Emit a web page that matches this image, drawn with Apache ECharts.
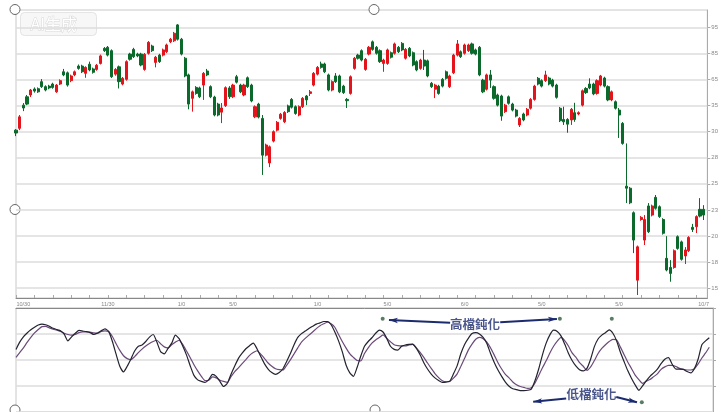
<!DOCTYPE html>
<html><head><meta charset="utf-8">
<script src="https://cdn.jsdelivr.net/npm/echarts@6/dist/echarts.min.js"></script>
<style>html,body{margin:0;padding:0;background:#fff;}#c{width:721px;height:412px;}</style>
</head><body><div id="c"></div>
<script>
const open = [160.6,161.3,170.2,173.4,174.1,176.4,176.5,179.2,177.3,177.5,
178.3,175.3,178.3,183.0,182.6,179.6,181.8,185.2,185.2,182.4,
185.9,184.1,183.9,186.2,192.0,192.4,191.1,182.1,184.9,178.3,
180.1,189.8,191.6,189.8,189.8,183.9,190.1,192.9,186.6,189.4,
189.4,190.7,194.5,194.9,201.0,195.5,188.2,181.8,172.8,177.0,
176.8,177.9,183.3,177.3,173.3,170.6,167.5,170.0,176.8,173.4,
181.1,177.9,174.1,180.7,177.9,165.7,170.6,165.1,151.0,148.0,
156.4,160.6,165.1,163.8,169.9,172.4,169.6,166.4,169.6,173.7,
174.7,177.9,182.1,186.0,186.0,181.8,176.0,181.4,181.4,177.5,
172.4,174.7,184.3,189.4,191.1,183.9,189.8,194.5,192.4,191.1,
186.2,186.2,190.3,190.1,192.4,193.9,188.2,192.0,190.3,186.9,
184.3,187.5,187.2,178.6,176.3,177.5,180.1,183.0,177.3,182.6,
189.4,190.7,190.1,191.1,193.7,191.4,192.4,179.8,176.3,181.8,
177.3,174.1,173.7,167.7,173.4,170.6,168.3,162.6,166.8,166.4,
169.0,172.4,180.5,179.6,179.6,180.6,179.8,177.9,169.0,164.7,
164.7,164.5,167.3,166.8,170.2,176.6,178.3,178.3,174.7,177.9,
180.6,177.3,172.2,171.5,168.3,163.2,139.1,138.3,128.9,103.0,
126.3,118.4,131.5,128.0,134.8,131.2,126.3,111.4,107.9,107.9,
119.7,117.7,112.3,114.3,123.3,123.5,130.2,130.2];
const close = [159.5,165.7,169.1,170.6,176.0,175.6,175.3,177.3,176.0,176.8,
177.0,177.9,179.6,181.8,177.9,181.4,183.0,184.3,183.0,184.7,
183.7,182.8,185.5,189.1,191.1,189.4,181.1,183.9,179.2,180.5,
186.9,187.8,188.8,189.1,185.6,189.7,194.3,191.1,188.6,186.9,
191.4,193.3,195.5,197.8,195.5,189.8,181.4,170.6,175.3,174.7,
173.4,182.4,181.8,173.4,166.4,166.4,169.1,176.9,173.4,177.9,
179.0,175.3,177.9,177.3,171.8,169.6,165.6,151.0,154.9,154.2,
160.0,163.6,166.7,167.4,167.7,169.4,167.0,169.6,172.8,172.2,
175.3,182.4,184.7,184.7,183.0,176.0,179.2,179.2,175.3,175.0,
171.9,181.1,188.2,188.2,187.5,187.8,192.4,191.6,190.1,186.9,
187.5,191.4,188.6,193.7,190.7,191.4,191.6,189.1,185.6,183.7,
187.5,185.2,181.4,177.3,177.9,174.7,177.5,180.5,181.4,189.4,
193.7,188.8,193.3,193.3,190.1,189.8,181.8,175.3,181.8,179.8,
172.8,170.2,166.0,170.2,170.9,168.3,166.0,165.1,164.5,168.6,
172.4,177.5,178.3,177.5,181.8,178.3,177.5,173.2,164.2,163.8,
162.9,168.6,164.7,167.3,175.7,175.0,176.8,174.5,179.6,181.4,
177.5,172.2,175.3,169.0,166.4,155.5,138.3,132.7,118.4,115.8,
127.1,126.3,121.6,131.5,130.6,127.4,121.0,106.9,105.6,114.3,
115.2,111.0,114.6,119.4,122.5,127.4,127.6,128.0];
const low = [158.3,160.6,167.9,170.2,173.3,175.0,174.9,176.8,175.5,176.3,
176.5,174.9,177.9,181.3,177.3,179.0,181.3,183.8,182.5,180.7,
183.2,182.3,183.4,185.8,190.6,188.9,180.6,181.5,176.6,177.8,
179.6,187.3,188.3,188.6,185.1,183.4,189.6,190.6,184.7,186.4,
188.9,190.2,194.0,194.4,195.0,189.3,180.9,168.6,167.7,174.2,
172.9,172.2,181.3,172.9,165.9,165.9,163.3,169.5,172.6,172.9,
178.5,174.8,173.6,176.8,171.3,165.2,165.1,143.4,150.5,146.4,
155.9,160.1,164.6,163.3,167.2,168.9,166.5,165.9,169.1,170.2,
173.7,177.4,181.6,184.2,182.5,175.5,175.5,178.7,174.8,174.5,
169.1,174.2,183.8,187.7,187.0,183.4,189.3,191.1,189.6,186.4,
183.0,185.7,188.1,189.6,190.2,190.9,187.7,188.6,185.1,183.2,
183.8,183.7,180.9,176.8,172.9,174.2,177.0,180.0,176.8,182.1,
188.9,188.3,189.6,190.6,189.6,189.3,181.3,174.8,175.8,176.8,
172.3,169.7,164.2,167.2,170.4,167.8,165.5,161.8,164.0,165.9,
168.5,171.9,177.8,177.0,179.1,177.8,177.0,172.7,163.7,162.6,
159.6,162.6,163.8,166.3,169.7,174.5,176.3,174.0,174.2,177.4,
177.0,171.7,171.7,168.5,157.6,155.0,132.6,132.2,113.4,97.3,
125.8,116.5,121.1,127.5,130.1,126.9,120.5,106.4,102.4,107.4,
114.7,110.5,109.2,113.8,121.5,121.1,127.1,126.1];
const high = [161.0,166.4,171.0,174.1,176.4,177.0,177.0,180.2,177.8,178.0,
178.8,178.3,180.1,184.1,183.1,181.9,183.5,185.8,185.7,185.1,
186.9,184.6,186.0,189.6,192.5,192.9,191.6,184.4,185.4,181.0,
187.4,190.3,192.2,190.3,190.3,190.2,194.8,193.4,189.1,189.9,
191.9,193.8,196.0,198.3,201.3,196.0,188.7,182.3,175.8,177.5,
177.3,182.9,184.1,177.8,173.8,171.1,171.0,177.4,177.5,178.4,
181.8,178.4,178.4,181.2,178.4,170.1,171.1,166.4,155.4,154.7,
160.5,164.1,167.2,167.9,170.4,172.9,170.1,170.1,173.3,174.1,
176.0,182.9,185.2,186.9,186.5,182.3,179.7,182.5,181.9,178.0,
172.9,181.6,188.7,189.9,191.6,188.3,192.9,195.0,192.9,191.6,
188.0,191.9,190.8,194.2,192.9,194.4,192.1,192.5,190.8,187.4,
188.0,191.4,187.7,179.1,178.4,178.0,180.6,183.5,181.9,189.9,
195.2,191.2,193.8,193.8,194.2,191.9,192.9,180.3,182.3,183.7,
177.8,174.6,174.2,170.7,173.9,171.1,168.8,165.6,167.3,169.1,
172.9,178.0,181.0,180.1,183.4,181.1,180.3,178.4,169.5,169.6,
165.2,169.1,171.1,167.8,176.2,177.1,180.5,178.8,180.1,181.8,
181.1,177.8,175.8,172.0,169.1,163.7,155.5,138.8,129.4,116.3,
127.6,128.0,132.6,132.0,135.7,131.7,126.8,119.9,110.7,114.8,
120.2,118.2,115.7,119.9,124.6,127.9,134.5,131.8];

const kLine = [60.2,67.2,72.3,76.0,79.0,81.5,83.6,84.5,83.9,82.4,
80.5,79.3,78.1,74.8,68.4,72.3,75.7,78.4,77.8,77.2,
76.3,74.5,76.0,78.1,79.9,77.5,67.8,55.6,44.0,38.5,
44.0,51.0,58.6,63.2,64.4,67.8,72.0,74.5,67.2,58.0,
55.9,61.1,66.2,73.9,70.5,63.2,54.7,44.3,35.2,30.9,
29.4,28.5,31.2,36.1,34.3,29.4,24.5,27.6,36.4,44.3,
51.6,56.5,60.8,63.8,66.2,60.8,53.5,46.5,41.3,37.9,
36.1,37.9,41.6,48.6,56.2,64.7,71.7,75.4,77.8,80.2,
82.4,84.5,85.7,87.0,87.0,83.9,76.9,68.4,58.0,45.5,
37.9,34.3,42.8,53.8,63.2,67.8,71.4,75.7,78.7,76.9,
70.8,63.2,60.2,59.5,63.2,64.4,65.0,65.3,61.1,55.0,
47.4,41.3,36.4,32.8,30.3,28.5,28.8,29.7,36.7,44.6,
56.2,65.0,70.8,75.4,76.3,75.1,71.7,65.9,56.2,47.7,
40.4,34.3,28.8,24.8,22.4,21.5,20.6,20.6,20.9,22.1,
30.3,41.6,55.0,66.2,74.2,78.7,77.5,73.2,65.3,56.5,
49.5,44.3,40.7,39.5,41.9,51.0,62.9,70.2,73.9,76.3,
79.0,75.7,68.4,57.7,48.6,39.8,32.5,26.1,20.9,25.2,
30.0,34.3,37.6,41.3,46.5,50.7,52.2,45.9,41.3,41.3,
41.0,38.9,37.6,41.9,51.0,64.7,68.4,71.4];
const dLine = [52.5,57.1,61.7,66.9,71.7,76.0,79.3,82.1,82.4,80.9,
79.6,78.7,77.5,75.7,74.5,73.9,74.5,76.3,76.9,76.9,
76.9,76.0,75.7,77.5,78.1,77.2,72.6,65.6,59.2,54.1,
51.3,50.4,53.2,57.1,60.5,63.5,65.9,67.8,69.0,65.6,
62.6,61.7,64.7,67.2,69.0,64.7,58.6,52.2,45.5,39.5,
34.3,30.3,30.6,33.7,32.8,30.6,29.4,28.5,34.0,38.9,
42.5,46.5,50.4,54.4,57.1,58.9,55.6,51.6,47.1,44.0,
41.6,40.7,40.4,44.9,50.1,55.9,61.7,67.2,70.8,73.9,
76.9,80.2,83.0,84.8,86.3,84.8,81.5,74.5,67.8,61.7,
56.2,52.5,49.5,49.2,56.2,61.7,66.2,69.3,71.7,74.2,
70.8,67.5,64.7,63.8,63.5,63.5,64.4,65.0,61.7,57.4,
52.5,47.1,41.9,37.0,33.1,30.0,29.1,29.4,32.5,36.7,
44.0,51.6,59.5,65.3,69.9,71.7,70.5,67.2,61.7,54.7,
47.4,41.3,36.1,32.8,28.8,26.1,24.5,23.6,22.7,23.3,
27.9,35.2,42.5,49.2,56.8,63.2,68.1,71.7,68.7,63.5,
56.8,52.8,47.4,44.0,40.1,43.4,49.5,56.2,61.1,64.7,
67.8,69.9,69.3,62.6,55.3,48.0,41.9,35.5,31.2,27.6,
29.7,31.2,34.0,36.7,41.0,43.4,44.9,44.9,43.7,41.9,
41.0,40.4,40.4,41.6,46.2,51.9,56.8,62.3];

const xTickIdx = [2,25,45,59,82,101,122,143,164,187];
const xTickText = ['10/30','11/30','1/0','5/0','1/0','5/0','6/0','5/0','5/0','10/7'];
const yTickVals = [200,190,180,170,160,150,140,130,120,110,100];
const yTickText = ['95','85','65','35','30','28','25','23','20','18','15'];
const dotPoints = [[98.9,89.7],[146.7,89.7],[160.7,89.7],[168.8,9.3]];
const annoNames = ['高檔鈍化','低檔鈍化'];
const annoPos = [[123.8,84.5],[155.2,16.6]];
const arrowFrom = [[117.1,85.8],[130.6,86.3],[148.4,13.0],[161.9,14.4]];
const arrowTo = [[100.6,88.4],[145.9,89.5],[139.5,9.9],[167.5,9.3]];

const n = open.length;
const cats = [];
for (let i = 0; i <= n; i++) cats.push(String(i));
const labelMap = {};
xTickIdx.forEach((ix, j) => { labelMap[ix] = xTickText[j]; });

const RED = '#e3141c', GREEN = '#0b6a2b', NAVY = '#1c2b6e';
const chart = echarts.init(document.getElementById('c'));
chart.setOption({
  animation: false,
  backgroundColor: '#fff',
  grid: [
    {left: 16, right: 8, top: 10, height: 288, show: true, borderColor: '#c8c8c8', borderWidth: 1},
    {left: 16, right: 8, top: 308, height: 109.5, show: true, borderColor: '#c8c8c8', borderWidth: 1}
  ],
  xAxis: [
    {type: 'category', gridIndex: 0, data: cats, boundaryGap: false,
     axisLine: {lineStyle: {color: '#888', width: 1}},
     axisTick: {show: true, inside: true, interval: 4, length: 3, lineStyle: {color: '#aaa'}},
     axisLabel: {interval: 0, formatter: (v, i) => labelMap[i] || '', fontSize: 5.5, color: '#888', margin: 3, fontFamily: 'Liberation Sans'},
     splitLine: {show: false}},
    {type: 'value', gridIndex: 1, min: 0, max: n, position: 'top',
     axisLine: {show: true, onZero: false, lineStyle: {color: '#888'}},
     axisTick: {show: false}, axisLabel: {show: false}, splitLine: {show: false}}
  ],
  yAxis: [
    {type: 'value', gridIndex: 0, position: 'right', min: 96.16, max: 206.72,
     axisLine: {show: true, onZero: false, lineStyle: {color: '#aaa'}},
     axisTick: {show: true, customValues: yTickVals, length: 3, lineStyle: {color: '#aaa'}},
     axisLabel: {show: true, customValues: yTickVals, fontSize: 6, color: '#888', margin: 4, fontFamily: 'Liberation Sans',
       formatter: v => { const j = yTickVals.indexOf(Math.round(v)); return j >= 0 ? yTickText[j] : ''; }},
     splitLine: {show: false}},
    {type: 'value', gridIndex: 1, position: 'right', min: 0, max: 100, interval: 25,
     axisLine: {show: true, onZero: false, lineStyle: {color: '#aaa'}},
     axisTick: {show: true, length: 3, lineStyle: {color: '#aaa'}},
     axisLabel: {show: false},
     splitLine: {show: true, lineStyle: {color: '#dcdcdc', width: 1.5}}}
  ],
  series: [
    {type: 'candlestick', xAxisIndex: 0, yAxisIndex: 0, z: 3,
     data: open.map((o, i) => [o, close[i], low[i], high[i]]),
     barWidth: 2.6,
     itemStyle: {color: RED, color0: GREEN, borderColor: RED, borderColor0: GREEN, borderWidth: 1},
     markLine: {silent: true, z: 1, symbol: ['none', 'none'], label: {show: false},
       lineStyle: {color: '#dcdcdc', width: 1.5, type: 'solid'},
       emphasis: {disabled: true},
       data: yTickVals.map(v => ({yAxis: v}))}},
    {type: 'line', xAxisIndex: 1, yAxisIndex: 1, symbol: 'none', smooth: 0.2,
     data: dLine.map((v, i) => [i, v]),
     lineStyle: {color: '#6a4a78', width: 1.2}},
    {type: 'line', xAxisIndex: 1, yAxisIndex: 1, symbol: 'none', smooth: 0.2,
     data: kLine.map((v, i) => [i, v]),
     lineStyle: {color: '#222230', width: 1.2}},
    {type: 'scatter', xAxisIndex: 1, yAxisIndex: 1, symbolSize: 4, z: 6,
     data: dotPoints, itemStyle: {color: '#2e5c3c'},
     markLine: {silent: true, z: 6, symbol: ['none', 'arrow'], symbolSize: [4, 9], label: {show: false},
       lineStyle: {color: NAVY, width: 2, type: 'solid'},
       emphasis: {disabled: true},
       data: arrowFrom.map((a, j) => [{coord: a}, {coord: arrowTo[j]}])}},
    {type: 'scatter', xAxisIndex: 1, yAxisIndex: 1, symbol: 'rect', symbolSize: 1, z: 7,
     itemStyle: {color: 'rgba(0,0,0,0)'},
     data: annoPos.map((p, j) => ({name: annoNames[j], value: p})),
     label: {show: true, position: 'inside', formatter: '{b}', fontSize: 12.5, fontWeight: 'bold', color: NAVY,
       fontFamily: 'Noto Sans CJK TC'}}
  ],
  graphic: [
    {type: 'group', left: 20, top: 12, children: [
      {type: 'rect', shape: {x: 0, y: 0, width: 76, height: 23, r: 4},
       style: {fill: 'rgba(242,242,242,0.6)', stroke: '#e4e4e4', lineWidth: 1}},
      {type: 'text', x: 10, y: 3, style: {text: 'AI生成', font: '16px "Noto Sans CJK SC"', fill: '#ffffff', stroke: '#d8d8d8', lineWidth: 1}}
    ]},
    {type: 'circle', shape: {cx: 15, cy: 9.5, r: 5}, style: {fill: '#fff', stroke: '#666', lineWidth: 1}},
    {type: 'circle', shape: {cx: 15, cy: 209.5, r: 5}, style: {fill: '#fff', stroke: '#666', lineWidth: 1}},
    {type: 'circle', shape: {cx: 15, cy: 410, r: 5}, style: {fill: '#fff', stroke: '#666', lineWidth: 1}},
    {type: 'circle', shape: {cx: 374, cy: 9.5, r: 5}, style: {fill: '#fff', stroke: '#666', lineWidth: 1}},
    {type: 'circle', shape: {cx: 375, cy: 410, r: 5}, style: {fill: '#fff', stroke: '#666', lineWidth: 1}}
  ]
});
</script>
</body></html>
